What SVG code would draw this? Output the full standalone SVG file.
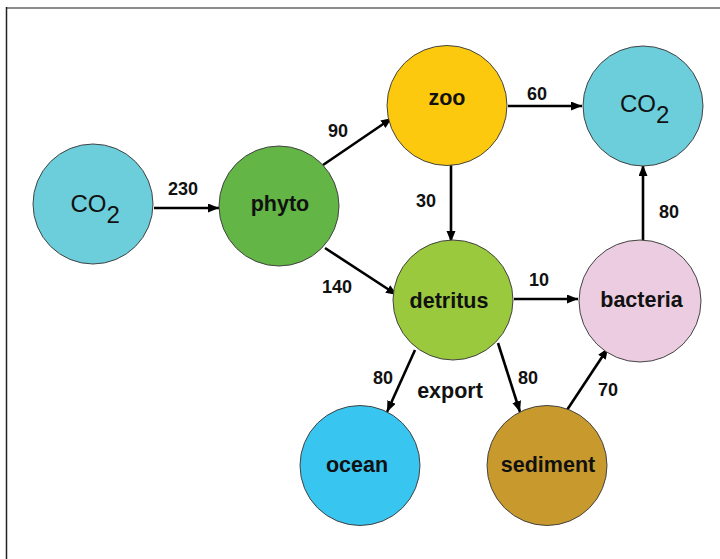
<svg xmlns="http://www.w3.org/2000/svg" width="720" height="559" viewBox="0 0 720 559">
<style>
.node{stroke:#444;stroke-width:1}
.lbl{font-family:"Liberation Sans",Arial,sans-serif;font-weight:bold;font-size:21.5px;fill:#111;text-anchor:middle}
.co2{font-family:"Liberation Sans",Arial,sans-serif;font-size:24px;fill:#111}
.num{font-family:"Liberation Sans",Arial,sans-serif;font-weight:bold;font-size:18px;fill:#111;text-anchor:middle}
.edge{stroke:#000;stroke-width:2.6;fill:none;marker-end:url(#ah)}
</style>
<defs>
<marker id="ah" markerUnits="userSpaceOnUse" markerWidth="12" markerHeight="10" refX="11" refY="4.5" orient="auto">
<path d="M0,0 L11,4.5 L0,9 z" fill="#000"/>
</marker>
</defs>
<rect width="720" height="559" fill="#fff"/>
<line x1="6" y1="8" x2="720" y2="8" stroke="#8c8c8c" stroke-width="2"/>
<line x1="6.5" y1="7" x2="6.5" y2="559" stroke="#222" stroke-width="1.5"/>
<g id="connectors">
<line class="edge" x1="154" y1="208" x2="219" y2="208"/>
<line class="edge" x1="323" y1="165" x2="392" y2="118"/>
<line class="edge" x1="325" y1="248" x2="397" y2="295"/>
<line class="edge" x1="451" y1="165" x2="451" y2="242"/>
<line class="edge" x1="508" y1="106" x2="582" y2="106"/>
<line class="edge" x1="514" y1="299" x2="578" y2="299"/>
<line class="edge" x1="643" y1="242" x2="643" y2="165"/>
<line class="edge" x1="415" y1="350" x2="387" y2="412"/>
<line class="edge" x1="498" y1="343" x2="520" y2="412"/>
<line class="edge" x1="567" y1="410" x2="608" y2="348"/>
<text class="num" x="183" y="194.5">230</text>
<text class="num" x="338" y="136.5">90</text>
<text class="num" x="426" y="206.5">30</text>
<text class="num" x="537" y="99.5">60</text>
<text class="num" x="669" y="217.5">80</text>
<text class="num" x="539" y="285.5">10</text>
<text class="num" x="337" y="292.5">140</text>
<text class="num" x="383" y="383.5">80</text>
<text class="num" x="528" y="383.5">80</text>
<text class="num" x="608" y="395.5">70</text>
<text class="lbl" x="450" y="398">export</text>
</g>
<g id="co2-left">
<circle class="node" cx="93" cy="204" r="60" fill="#6ccddb"/>
<text class="co2" x="70.5" y="212">CO<tspan dy="11">2</tspan></text>
</g>
<g id="phyto">
<circle class="node" cx="279" cy="206" r="60" fill="#63b546"/>
<text class="lbl" x="280" y="211">phyto</text>
</g>
<g id="zoo">
<circle class="node" cx="447" cy="105.5" r="60" fill="#fcc90f"/>
<text class="lbl" x="447" y="104.5">zoo</text>
</g>
<g id="co2-right">
<circle class="node" cx="643" cy="106" r="60" fill="#6ccddb"/>
<text class="co2" x="620" y="112">CO<tspan dy="11">2</tspan></text>
</g>
<g id="detritus">
<circle class="node" cx="453" cy="300" r="60" fill="#9ac93d"/>
<text class="lbl" x="449" y="307.5">detritus</text>
</g>
<g id="bacteria">
<circle class="node" cx="640" cy="301" r="61" fill="#ebcce0"/>
<text class="lbl" x="641.5" y="307">bacteria</text>
</g>
<g id="ocean">
<circle class="node" cx="360" cy="465.5" r="60" fill="#38c5f0"/>
<text class="lbl" x="357" y="472">ocean</text>
</g>
<g id="sediment">
<circle class="node" cx="547" cy="465.5" r="60" fill="#c8992d"/>
<text class="lbl" x="548" y="472">sediment</text>
</g>
</svg>
